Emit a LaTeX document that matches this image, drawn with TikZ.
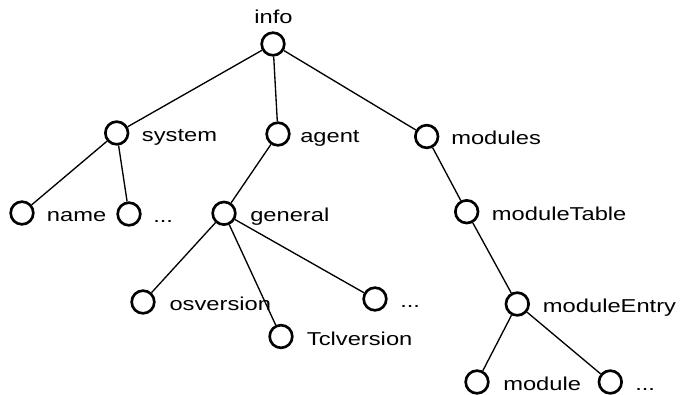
\documentclass[tikz,border=0pt]{standalone}
\usepackage{fontspec}
\setmainfont{Liberation Sans}[FakeStretch=1.27]
\tikzset{
  knot/.style={circle, draw, line width=2pt, minimum size=17pt, inner sep=0pt},
  lbl/.style={anchor=base west, inner sep=0pt, font=\fontsize{14}{16}\selectfont},
  edge/.style={line width=1pt}
}
\begin{document}
\begin{tikzpicture}[x=0.75pt, y=-0.75pt]
  \useasboundingbox (0,0) rectangle (681,395);

  \node[knot] (info) at (273,44) {};
  \node[lbl, anchor=base] (infotxt) at (273.5,24) {info};

  \node[knot] (system) at (116.7,133) {};
  \node[lbl] (systemtxt) at (141.7,141.5) {system};
  \node[knot] (agent) at (278,134) {};
  \node[lbl] (agenttxt) at (300,142.5) {agent};
  \node[knot] (modules) at (426.7,136.5) {};
  \node[lbl] (modulestxt) at (451,145) {modules};

  \node[knot] (name) at (22,213) {};
  \node[lbl] (nametxt) at (46.7,221.5) {name};
  \node[knot] (sysmore) at (129,214) {};
  \node[lbl] (sysmoretxt) at (153,222.5) {...};
  \node[knot] (general) at (224,213.3) {};
  \node[lbl] (generaltxt) at (250,222) {general};

  \node[knot] (osversion) at (143,302) {};
  \node[lbl] (osversiontxt) at (169.3,310.5) {osversion};
  \node[knot] (tclversion) at (281,336.5) {};
  \node[lbl] (tclversiontxt) at (306.7,345) {Tclversion};
  \node[knot] (genmore) at (375,299) {};
  \node[lbl] (genmoretxt) at (400,307.5) {...};

  \node[knot] (moduletable) at (466.7,211.7) {};
  \node[lbl] (moduletabletxt) at (491.7,220.2) {moduleTable};
  \node[knot] (moduleentry) at (517.3,304) {};
  \node[lbl] (moduleentrytxt) at (542.7,312.5) {moduleEntry};
  \node[knot] (module) at (477,382) {};
  \node[lbl] (moduletxt) at (503,390.5) {module};
  \node[knot] (entrymore) at (610.3,382) {};
  \node[lbl] (entrymoretxt) at (635,390.5) {...};

  \draw[edge] (info) -- (system);
  \draw[edge] (info) -- (agent);
  \draw[edge] (info) -- (modules);
  \draw[edge] (system) -- (name);
  \draw[edge] (system) -- (sysmore);
  \draw[edge] (agent) -- (general);
  \draw[edge] (general) -- (osversion);
  \draw[edge] (general) -- (tclversion);
  \draw[edge] (general) -- (genmore);
  \draw[edge] (modules) -- (moduletable);
  \draw[edge] (moduletable) -- (moduleentry);
  \draw[edge] (moduleentry) -- (module);
  \draw[edge] (moduleentry) -- (entrymore);
\end{tikzpicture}
\end{document}
